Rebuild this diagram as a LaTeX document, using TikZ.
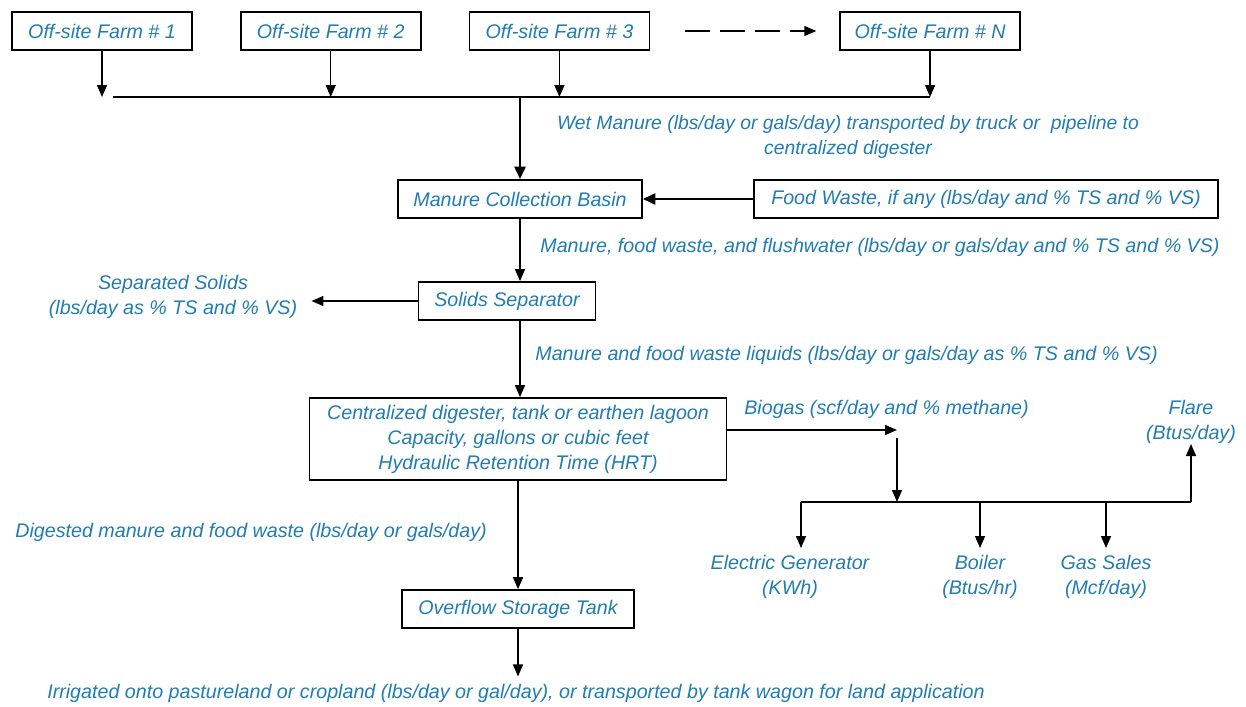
\documentclass[tikz,border=0pt]{standalone}
\usepackage{fontspec}
\setmainfont{Liberation Sans}
\usetikzlibrary{positioning, arrows.meta}
\definecolor{flowblue}{RGB}{33,124,177}

\begin{document}
\begin{tikzpicture}[
  x=0.02cm, y=-0.02cm,
  font=\fontsize{11.2}{14.2}\selectfont\itshape,
  node distance=0.94cm,
  stage/.style={draw, line width=1pt, minimum height=0.76cm, inner sep=2pt,
                text=flowblue, align=center},
  flowtext/.style={text=flowblue, align=center, inner sep=0pt},
  arrow/.style={-{Triangle[length=2.4mm,width=2mm]}, line width=0.8pt},
  heavy/.style={-{Triangle[length=2.5mm,width=2.2mm]}, line width=1.5pt}
]
\useasboundingbox (0,0) rectangle (1246,706);

% farms
\node[stage, minimum width=3.6cm] (farm1) at (102,31) {Off-site Farm \# 1};
\node[stage, minimum width=3.6cm, right=of farm1] (farm2) {Off-site Farm \# 2};
\node[stage, minimum width=3.6cm, right=of farm2] (farm3) {Off-site Farm \# 3};
\node[stage, minimum width=3.6cm, right=3.78cm of farm3] (farmN) {Off-site Farm \# N};
\draw[arrow, dash pattern=on 0.5cm off 0.2cm, shorten <=0.7cm, shorten >=0.46cm]
  (farm3.east) -- (farmN.west);

\coordinate (bus) at (520,97);
\coordinate (busL) at (113,97);
\draw[line width=0.8pt] (busL) -- (farmN.south |- bus);
\draw[arrow] (farm1.south) -- (farm1.south |- bus);
\draw[arrow] (farm2.south) -- (farm2.south |- bus);
\draw[arrow] (farm3.south) -- (farm3.south |- bus);
\draw[arrow] (farmN.south) -- (farmN.south |- bus);

\node[flowtext, font=\fontsize{11}{14.2}\selectfont\itshape] (wettext) at (848,137)
  {Wet Manure (lbs/day or gals/day) transported by truck or\ \ pipeline to\\centralized digester};

% collection
\node[stage, minimum width=4.88cm] (basin) at (520,199) {Manure Collection Basin};
\node[stage, minimum width=9.28cm] (food) at (986,199) {Food Waste, if any (lbs/day and \% TS and \% VS)};
\draw[heavy] (bus) -- (basin.north);
\draw[heavy] (food) -- (basin);

\node[stage, minimum width=3.54cm] (sep) at (507,301) {Solids Separator};
\draw[arrow] (basin.south) -- (basin.south |- sep.north);
\node[flowtext, anchor=west] (flushtext) at (540,247)
  {Manure, food waste, and flushwater (lbs/day or gals/day and \% TS and \% VS)};

\node[flowtext] (solids) at (173,297) {Separated Solids\\(lbs/day as \% TS and \% VS)};
\draw[arrow, shorten >=0.28cm] (sep.west) -- (sep.west -| solids.east);

% digester
\node[stage, minimum width=8.34cm, minimum height=1.64cm] (dig) at (518,439)
  {Centralized digester, tank or earthen lagoon\\Capacity, gallons or cubic feet\\Hydraulic Retention Time (HRT)};
\draw[arrow] (sep.south -| basin.south) -- (dig.north -| basin.south);
\node[flowtext, anchor=west] (liquidtext) at (535,355)
  {Manure and food waste liquids (lbs/day or gals/day as \% TS and \% VS)};

% biogas
\coordinate (gas) at (897,430);
\coordinate (split) at (897,502);
\draw[arrow] (dig.east |- gas) -- (gas);
\node[flowtext, anchor=west] (gastext) at (744,409) {Biogas (scf/day and \% methane)};
\draw[arrow] ([yshift=-0.16cm]gas) -- (split);

\node[flowtext] (gen) at (790,577) {Electric Generator\\(KWh)};
\node[flowtext] (boiler) at (980,577) {Boiler\\(Btus/hr)};
\node[flowtext] (sales) at (1106,577) {Gas Sales\\(Mcf/day)};
\node[flowtext] (flare) at (1191,422) {Flare\\(Btus/day)};

\coordinate (tapL) at (801,502);
\coordinate (tapR) at (1191,502);
\draw[line width=0.8pt] (tapL) -- (tapR);
\draw[arrow, shorten >=0.14cm] (tapL) -- (tapL |- gen.north);
\draw[arrow, shorten >=0.14cm] (boiler |- split) -- (boiler.north);
\draw[arrow, shorten >=0.14cm] (sales |- split) -- (sales.north);
\draw[arrow] (tapR) -- (flare.south);

% storage
\node[stage, minimum width=4.64cm] (tank) at (518,609) {Overflow Storage Tank};
\draw[arrow] (dig.south) -- (tank.north);
\node[flowtext, anchor=west] (digtext) at (15,532)
  {Digested manure and food waste (lbs/day or gals/day)};

\node[flowtext] (irrig) at (516,693)
  {Irrigated onto pastureland or cropland (lbs/day or gal/day), or transported by tank wagon for land application};
\draw[arrow, shorten >=0.14cm] (tank.south) -- (tank.south |- irrig.north);
\end{tikzpicture}
\end{document}
